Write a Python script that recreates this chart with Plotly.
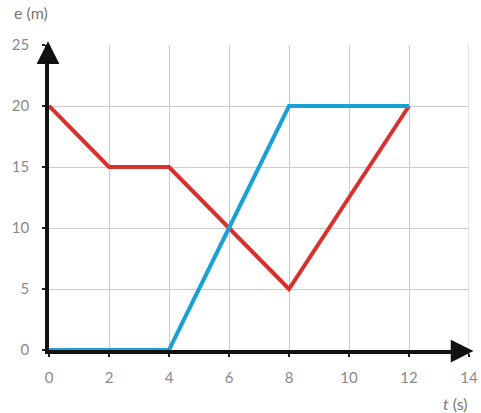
import plotly.graph_objects as go

t_red = [0, 2, 4, 6, 8, 10, 12]
e_red = [20, 15, 15, 10, 5, 12.5, 20]
t_blue = [0, 4, 6, 8, 12]
e_blue = [0, 0, 10, 20, 20]
x_ticks = [0, 2, 4, 6, 8, 10, 12, 14]
y_ticks = [0, 5, 10, 15, 20, 25]

fig = go.Figure()
fig.add_trace(go.Scatter(x=t_red, y=e_red, mode="lines",
                         line=dict(color="#d9302e", width=4), cliponaxis=False))
fig.add_trace(go.Scatter(x=t_blue, y=e_blue, mode="lines",
                         line=dict(color="#1a9fd6", width=4), cliponaxis=False))

tickfont = dict(family="Lato, sans-serif", size=15, color="#8a8a8a")
axis_common = dict(showgrid=True, gridcolor="#cccccc", gridwidth=1, zeroline=False,
                   showline=True, linecolor="#111111", linewidth=3.5,
                   layer="below traces", ticks="outside", ticklen=3, tickwidth=2,
                   tickcolor="#222222", tickfont=tickfont, automargin=False,
                   fixedrange=True)
fig.update_xaxes(range=[0, 14], tickvals=x_ticks, ticklabelstandoff=8, **axis_common)
fig.update_yaxes(range=[0, 25], tickvals=y_ticks, ticklabelstandoff=10, **axis_common)

# right border of grid
fig.add_shape(type="line", xref="x", yref="y", x0=14, x1=14, y0=0, y1=25,
              line=dict(color="#cccccc", width=1), layer="below")

# arrow heads
fig.add_annotation(x=14.15, y=0, ax=13.6, ay=0, xref="x", yref="y", axref="x", ayref="y",
                   showarrow=True, arrowhead=2, arrowsize=1.3, arrowwidth=3.5,
                   arrowcolor="#111111", text="", yshift=-1)
fig.add_annotation(x=0, y=25.3, ax=0, ay=24.0, xref="x", yref="y", axref="x", ayref="y",
                   showarrow=True, arrowhead=2, arrowsize=1.3, arrowwidth=3.5,
                   arrowcolor="#111111", text="", xshift=-1)

labfont = dict(family="Lato, sans-serif", size=16, color="#777777")
fig.add_annotation(x=-0.088, y=1.108, xref="paper", yref="paper", text="e (m)",
                   showarrow=False, font=labfont, xanchor="left", yanchor="middle")
fig.add_annotation(x=1.003, y=-0.175, xref="paper", yref="paper", text="<i>t</i> (s)",
                   showarrow=False, font=labfont, xanchor="right", yanchor="middle")

fig.update_layout(width=481, height=413, margin=dict(l=49, r=12, t=45, b=63),
                  plot_bgcolor="white", paper_bgcolor="white", showlegend=False)

fig.write_html("out.html", config={"displayModeBar": False},
               post_script="document.body.style.margin='0';")
